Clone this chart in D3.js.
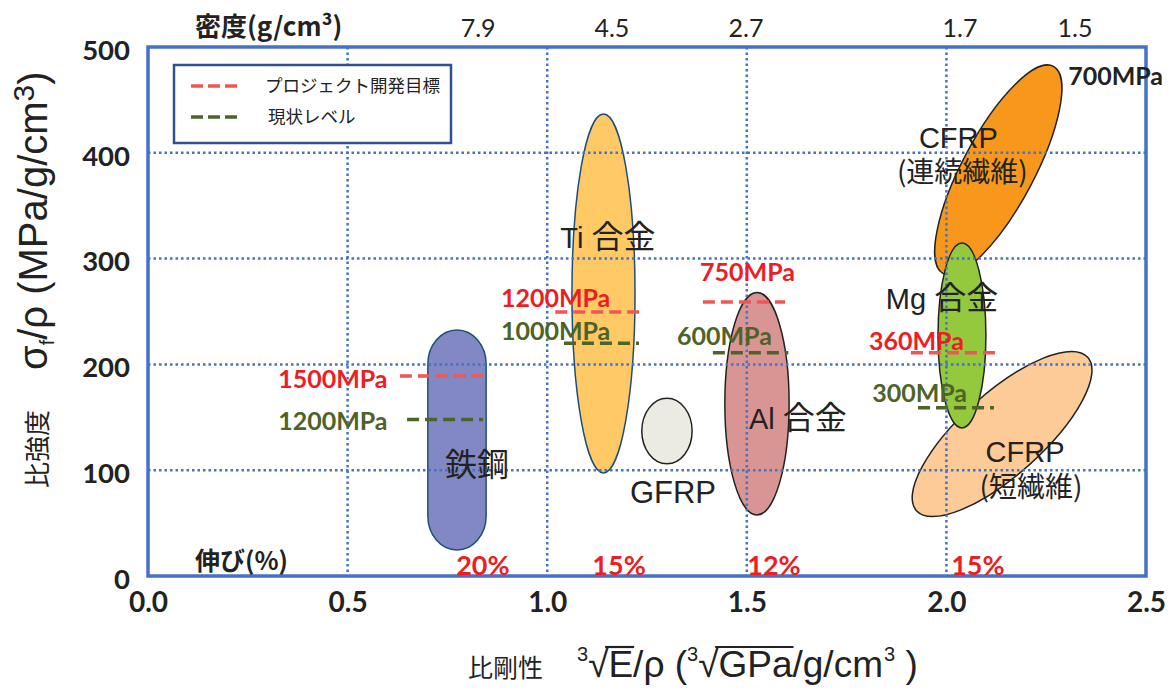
<!DOCTYPE html>
<html><head><meta charset="utf-8">
<script src="https://cdn.jsdelivr.net/npm/d3@7"></script>
<style>
html,body{margin:0;padding:0;background:#fff;}
svg{display:block;}
</style></head>
<body>
<script>
// ---------- data ----------
const xTickValues = [0, 0.5, 1.0, 1.5, 2.0, 2.5];
const xTickLabels = ["0.0", "0.5", "1.0", "1.5", "2.0", "2.5"];
const yTickValues = [0, 100, 200, 300, 400, 500];
const yTickLabels = ["0", "100", "200", "300", "400", "500"];

// axis-aligned material regions: [xmin, xmax], [ymin, ymax]
const materialNames = ["鉄鋼", "Ti 合金", "GFRP", "Al 合金", "Mg 合金"];
const materialX = [[0.701, 0.847], [1.062, 1.220], [1.237, 1.363], [1.445, 1.606], [1.979, 2.099]];
const materialY = [[24.6, 232.5], [97.4, 436.7], [106, 168], [57.7, 268], [140, 314.7]];
const materialShape = ["capsule", "ellipse", "ellipse", "ellipse", "ellipse"];
const materialFill = ["#8188c3", "#ffc966", "#ecebe1", "#d99594", "#94c83d"];
const materialStroke = ["#1f4e79", "#1f4e79", "#222", "#222", "#222"];

// tilted CFRP regions: major axis end points in data units + minor/major ratio
const cfrpNames = ["CFRP(連続繊維)", "CFRP(短繊維)"];
const cfrpEnd1 = [[1.992, 285.8], [1.925, 61.7]];
const cfrpEnd2 = [[2.268, 481.7], [2.354, 206.7]];
const cfrpRatio = [0.306, 0.357];
const cfrpFill = ["#f7981d", "#fccb98"];

// target (project goal) and current levels
const levelMaterials = ["鉄鋼", "Ti 合金", "Al 合金", "Mg 合金"];
const goalLabels = ["1500MPa", "1200MPa", "750MPa", "360MPa"];
const goalValues = [189, 249.5, 259, 211];
const goalX = [[0.631, 0.839], [1.020, 1.230], [1.390, 1.596], [1.911, 2.122]];
const goalLabelAt = [[0.326, 177.7], [0.884, 254], [1.383, 279], [1.806, 213.6]];
const currentLabels = ["1200MPa", "1000MPa", "600MPa", "300MPa"];
const currentValues = [148, 220, 211, 159];
const currentX = [[0.649, 0.839], [1.042, 1.230], [1.415, 1.604], [1.929, 2.119]];
const currentLabelAt = [[0.326, 138], [0.884, 223], [1.325, 218], [1.814, 164.5]];

// density (top) and elongation (bottom) annotations
const densityLabels = ["7.9", "4.5", "2.7", "1.7", "1.5"];
const densityAt = [0.827, 1.162, 1.498, 2.034, 2.322];
const elongLabels = ["20%", "15%", "12%", "15%"];
const elongAt = [0.839, 1.180, 1.568, 2.079];

// material name label anchors (centre x, baseline y) in data units: [latin part, cjk part]
const nameLabelLatin = ["", "Ti ", "GFRP", "Al ", "Mg ", "CFRP", "", "CFRP", ""];
const nameLabelCjk = ["鉄鋼", "合金", "", "合金", "合金", "", "(連続繊維)", "", "(短繊維)"];
const nameLabelAt = [[0.824, 94.5], [1.152, 310], [1.315, 69], [1.628, 139], [1.989, 252], [2.030, 405], [2.040, 372], [2.197, 108], [2.212, 74.7]];
const topLabelText = "700MPa";
const topLabelAt = [2.305, 464];

// ---------- chart ----------
const W = 1175, H = 692;
const svg = d3.select("body").append("svg").attr("width", W).attr("height", H);
const x = d3.scaleLinear().domain([0, 2.5]).range([148, 1146]);
const y = d3.scaleLinear().domain([0, 500]).range([576, 47]);

const latin = "Lato, 'Liberation Sans', sans-serif";
const sans = "'Liberation Sans', 'Noto Sans CJK JP', sans-serif";
const cjk = "'Noto Sans CJK JP', sans-serif";
const RED = "#ee1c25", GREEN = "#4f6228", REDDASH = "#f25555", GRID = "#4472c4";

// shapes: CFRP first (underneath), then the others
const shapes = svg.append("g");
cfrpNames.forEach((n, i) => {
  const ax = x(cfrpEnd1[i][0]), ay = y(cfrpEnd1[i][1]);
  const bx = x(cfrpEnd2[i][0]), by = y(cfrpEnd2[i][1]);
  const cx = (ax + bx) / 2, cy = (ay + by) / 2;
  const a = Math.hypot(bx - ax, by - ay) / 2;
  const ang = Math.atan2(by - ay, bx - ax) * 180 / Math.PI;
  shapes.append("ellipse").attr("cx", 0).attr("cy", 0).attr("rx", a).attr("ry", a * cfrpRatio[i])
    .attr("transform", `translate(${cx},${cy}) rotate(${ang})`)
    .attr("fill", cfrpFill[i]).attr("stroke", "#222").attr("stroke-width", 1.5);
});
materialNames.forEach((n, i) => {
  const x0 = x(materialX[i][0]), x1 = x(materialX[i][1]);
  const y0 = y(materialY[i][1]), y1 = y(materialY[i][0]);
  if (materialShape[i] === "capsule") {
    shapes.append("rect").attr("x", x0).attr("y", y0).attr("width", x1 - x0).attr("height", y1 - y0)
      .attr("rx", (x1 - x0) / 2).attr("ry", 34)
      .attr("fill", materialFill[i]).attr("stroke", materialStroke[i]).attr("stroke-width", 1.5);
  } else {
    shapes.append("ellipse").attr("cx", (x0 + x1) / 2).attr("cy", (y0 + y1) / 2)
      .attr("rx", (x1 - x0) / 2).attr("ry", (y1 - y0) / 2)
      .attr("fill", materialFill[i]).attr("stroke", materialStroke[i]).attr("stroke-width", 1.5);
  }
});

// grid on top of shapes
const grid = svg.append("g").attr("stroke", GRID).attr("stroke-width", 2.5).attr("stroke-dasharray", "2.5,3");
xTickValues.slice(1, -1).forEach(v => grid.append("line").attr("x1", x(v)).attr("x2", x(v)).attr("y1", y(500)).attr("y2", y(0)));
yTickValues.slice(1, -1).forEach(v => grid.append("line").attr("x1", x(0)).attr("x2", x(2.5)).attr("y1", y(v)).attr("y2", y(v)));

// plot border
svg.append("rect").attr("x", x(0)).attr("y", y(500)).attr("width", x(2.5) - x(0)).attr("height", y(0) - y(500))
  .attr("fill", "none").attr("stroke", GRID).attr("stroke-width", 3.5);

// axes (labels only)
const xAxis = d3.axisBottom(x).tickValues(xTickValues).tickFormat((d, i) => xTickLabels[i]).tickSize(0).tickPadding(16);
const gx = svg.append("g").attr("transform", `translate(0,${y(0)})`).call(xAxis);
gx.select(".domain").remove();
gx.selectAll("text").attr("font-family", latin).attr("font-weight", "bold").attr("font-size", 28).attr("fill", "#222");
const yAxis = d3.axisLeft(y).tickValues(yTickValues).tickFormat((d, i) => yTickLabels[i]).tickSize(0).tickPadding(18);
const gy = svg.append("g").attr("transform", `translate(${x(0)},0)`).call(yAxis);
gy.select(".domain").remove();
gy.selectAll("text").attr("font-family", latin).attr("font-weight", "bold").attr("font-size", 27.5).attr("fill", "#222").attr("dy", "0.45em");

// dashed level lines
function dash(x0, x1, v, color) {
  svg.append("line").attr("x1", x(x0)).attr("x2", x(x1)).attr("y1", y(v)).attr("y2", y(v))
    .attr("stroke", color).attr("stroke-width", 3.5).attr("stroke-dasharray", "12,6");
}
levelMaterials.forEach((m, i) => {
  dash(goalX[i][0], goalX[i][1], goalValues[i], REDDASH);
  dash(currentX[i][0], currentX[i][1], currentValues[i], GREEN);
  svg.append("text").attr("x", x(goalLabelAt[i][0])).attr("y", y(goalLabelAt[i][1])).text(goalLabels[i])
    .attr("font-family", latin).attr("font-weight", "bold").attr("font-size", 25).attr("fill", RED);
  svg.append("text").attr("x", x(currentLabelAt[i][0])).attr("y", y(currentLabelAt[i][1])).text(currentLabels[i])
    .attr("font-family", latin).attr("font-weight", "bold").attr("font-size", 25).attr("fill", GREEN);
});
svg.append("text").attr("x", x(topLabelAt[0])).attr("y", y(topLabelAt[1])).text(topLabelText)
  .attr("font-family", latin).attr("font-weight", "bold").attr("font-size", 25).attr("fill", "#222");

// material names
nameLabelAt.forEach((p, i) => {
  const t = svg.append("text").attr("x", x(p[0])).attr("y", y(p[1])).attr("text-anchor", "middle")
    .attr("fill", "#222");
  if (nameLabelLatin[i]) t.append("tspan").attr("font-family", sans)
    .attr("font-size", nameLabelLatin[i] === "GFRP" ? 31 : 29).attr("xml:space", "preserve").text(nameLabelLatin[i]);
  if (nameLabelCjk[i]) t.append("tspan").attr("font-family", cjk)
    .attr("font-size", nameLabelCjk[i].startsWith("(") ? 28 : 32).text(nameLabelCjk[i]);
});

// top density annotation
svg.append("text").attr("x", 195).attr("y", 36).attr("font-family", cjk).attr("font-weight", "bold")
  .attr("font-size", 26).attr("fill", "#222").text("密度(g/cm³)");
densityLabels.forEach((t, i) => {
  svg.append("text").attr("x", x(densityAt[i])).attr("y", 37).attr("text-anchor", "middle")
    .attr("font-family", latin).attr("font-size", 25).attr("fill", "#222").text(t);
});

// elongation
svg.append("text").attr("x", 195).attr("y", 570).attr("font-family", cjk).attr("font-weight", "bold")
  .attr("font-size", 25).attr("fill", "#222").text("伸び(%)");
elongLabels.forEach((t, i) => {
  svg.append("text").attr("x", x(elongAt[i])).attr("y", 575).attr("text-anchor", "middle")
    .attr("font-family", latin).attr("font-weight", "bold").attr("font-size", 27).attr("fill", RED).text(t);
});

// legend
const lg = svg.append("g");
lg.append("rect").attr("x", 174).attr("y", 65).attr("width", 277).attr("height", 78)
  .attr("fill", "#fff").attr("stroke", "#2f528f").attr("stroke-width", 2.5);
[["プロジェクト開発目標", REDDASH, 86], ["現状レベル", GREEN, 117]].forEach(([t, c, yy], i) => {
  lg.append("line").attr("x1", 191).attr("x2", 238).attr("y1", yy).attr("y2", yy)
    .attr("stroke", c).attr("stroke-width", 3.5).attr("stroke-dasharray", "12,5");
  lg.append("text").attr("x", i === 0 ? 265 : 268).attr("y", yy + 6).attr("font-family", cjk)
    .attr("font-size", 17.5).attr("fill", "#222").text(t);
});

// x-axis title
svg.append("text").attr("x", 468).attr("y", 677).attr("font-family", cjk).attr("font-size", 25).attr("fill", "#222").text("比剛性");
const xt = svg.append("text").attr("x", 577).attr("y", 677).attr("font-family", "'Liberation Sans', sans-serif")
  .attr("font-size", 37).attr("fill", "#222");
xt.append("tspan").attr("font-size", 20).attr("dy", -16).text("3");
xt.append("tspan").attr("dy", 16).text("√E/ρ (");
xt.append("tspan").attr("font-size", 20).attr("dy", -16).text("3");
xt.append("tspan").attr("dy", 16).text("√GPa/g/cm");
xt.append("tspan").attr("font-size", 20).attr("dy", -16).attr("dx", 1).text("3");
xt.append("tspan").attr("dy", 16).text(" )");
// overlines above radicals
(function () {
  const node = xt.node();
  const full = "3√E/ρ (3√GPa/g/cm3 )";
  try {
    const i1 = full.indexOf("√"), i2 = full.indexOf("√", i1 + 1);
    const segs = [[i1, i1 + 1], [i2, i2 + 3]].map(([a, b]) => [node.getStartPositionOfChar(a).x, node.getEndPositionOfChar(b).x]);
    segs.forEach(([s, e]) => {
      svg.append("line").attr("x1", s + 17).attr("x2", e + 1).attr("y1", 647).attr("y2", 647)
        .attr("stroke", "#222").attr("stroke-width", 2.2);
    });
  } catch (err) {}
})();

// y-axis title (rotated)
const yt = svg.append("g").attr("transform", "translate(47,488) rotate(-90)");
yt.append("text").attr("x", 0).attr("y", 0).attr("font-family", cjk).attr("font-size", 26).attr("fill", "#222").text("比強度");
const ys = yt.append("text").attr("x", 118).attr("y", 0).attr("font-family", "'Liberation Sans', sans-serif")
  .attr("font-size", 40).attr("fill", "#222");
ys.append("tspan").text("σ");
ys.append("tspan").attr("font-size", 20).attr("dy", 7).text("f");
ys.append("tspan").attr("dy", -7).text("/ρ (MPa/g/cm");
ys.append("tspan").attr("font-size", 30).attr("dy", -13).text("3");
ys.append("tspan").attr("dy", 13).text(")");
</script>
</body></html>
